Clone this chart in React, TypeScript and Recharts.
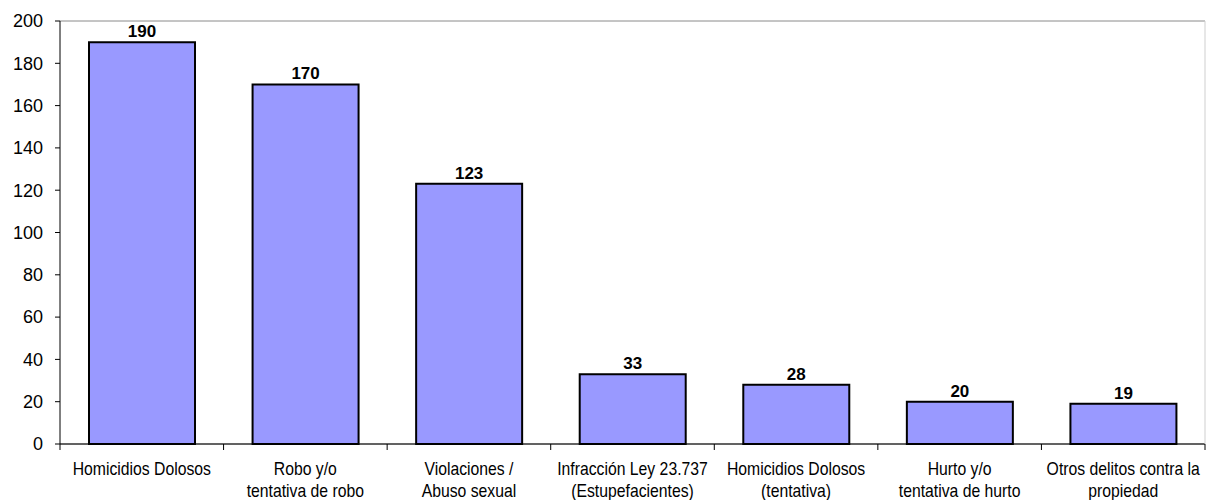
import { BarChart, Bar, XAxis, YAxis, CartesianGrid, LabelList } from "recharts";

const categories = [
  "Homicidios Dolosos",
  "Robo y/o tentativa de robo",
  "Violaciones / Abuso sexual",
  "Infracción Ley 23.737 (Estupefacientes)",
  "Homicidios Dolosos (tentativa)",
  "Hurto y/o tentativa de hurto",
  "Otros delitos contra la propiedad",
];

// how each category label is broken into lines under the axis
const labelLines = [
  ["Homicidios Dolosos"],
  ["Robo y/o", "tentativa de robo"],
  ["Violaciones /", "Abuso sexual"],
  ["Infracción Ley 23.737", "(Estupefacientes)"],
  ["Homicidios Dolosos", "(tentativa)"],
  ["Hurto y/o", "tentativa de hurto"],
  ["Otros delitos contra la", "propiedad"],
];

const values = [190, 170, 123, 33, 28, 20, 19];

const yTicks = [0, 20, 40, 60, 80, 100, 120, 140, 160, 180, 200];

const data = categories.map((name, i) => ({ name, idx: i, value: values[i] }));

const FONT = "'Liberation Sans', Arial, sans-serif";
const W = 1206;
const H = 500;
const PLOT_LEFT = 60;
const PLOT_RIGHT = 1;
const STEP = (W - PLOT_LEFT - PLOT_RIGHT) / categories.length;

function XTick(props: any) {
  const { x, y, payload, index } = props;
  const lines = labelLines[payload.index ?? index] ?? [payload.value];
  const left = x - STEP / 2;
  const right = x + STEP / 2;
  const axisY = y - 8;
  return (
    <g>
      <line x1={left} y1={axisY} x2={left} y2={axisY + 6} stroke="#000" strokeWidth={1} />
      {index === categories.length - 1 && (
        <line x1={right} y1={axisY} x2={right} y2={axisY + 6} stroke="#000" strokeWidth={1} />
      )}
      <g transform={`translate(${x},${y}) scale(0.83,1)`}>
        {lines.map((l: string, i: number) => (
          <text
            key={i}
            x={0}
            y={23 + i * 22}
            textAnchor="middle"
            fontSize={19}
            fontFamily={FONT}
            fill="#000"
          >
            {l}
          </text>
        ))}
      </g>
    </g>
  );
}

export default function App() {
  return (
    <div style={{ position: "absolute", left: 0, top: 0, width: W, height: H, background: "#fff" }}>
      <BarChart
        width={W}
        height={H}
        data={data}
        margin={{ top: 21, right: 0, left: 0, bottom: 0 }}
      >
        <CartesianGrid vertical={false} stroke="#8a8a8a" />
        <XAxis
          dataKey="name"
          height={56}
          tickLine={false}
          tickSize={6}
          tickMargin={2}
          interval={0}
          stroke="#000"
          tick={<XTick />}
        />
        <YAxis
          yAxisId="l"
          width={PLOT_LEFT}
          domain={[0, 200]}
          ticks={yTicks}
          interval={0}
          tickSize={5}
          tickMargin={12}
          stroke="#000"
          tick={{ fill: "#000", fontSize: 18, fontFamily: FONT }}
        />
        <YAxis
          yAxisId="r"
          orientation="right"
          width={PLOT_RIGHT}
          domain={[0, 200]}
          tick={false}
          tickLine={false}
          stroke="#cfcfcf"
        />
        <Bar
          yAxisId="l"
          dataKey="value"
          fill="#9999FF"
          stroke="#000"
          strokeWidth={2}
          barSize={106}
          isAnimationActive={false}
        >
          <LabelList
            dataKey="value"
            position="top"
            offset={5}
            fill="#000"
            fontSize={17}
            fontWeight="bold"
            fontFamily={FONT}
          />
        </Bar>
      </BarChart>
    </div>
  );
}
